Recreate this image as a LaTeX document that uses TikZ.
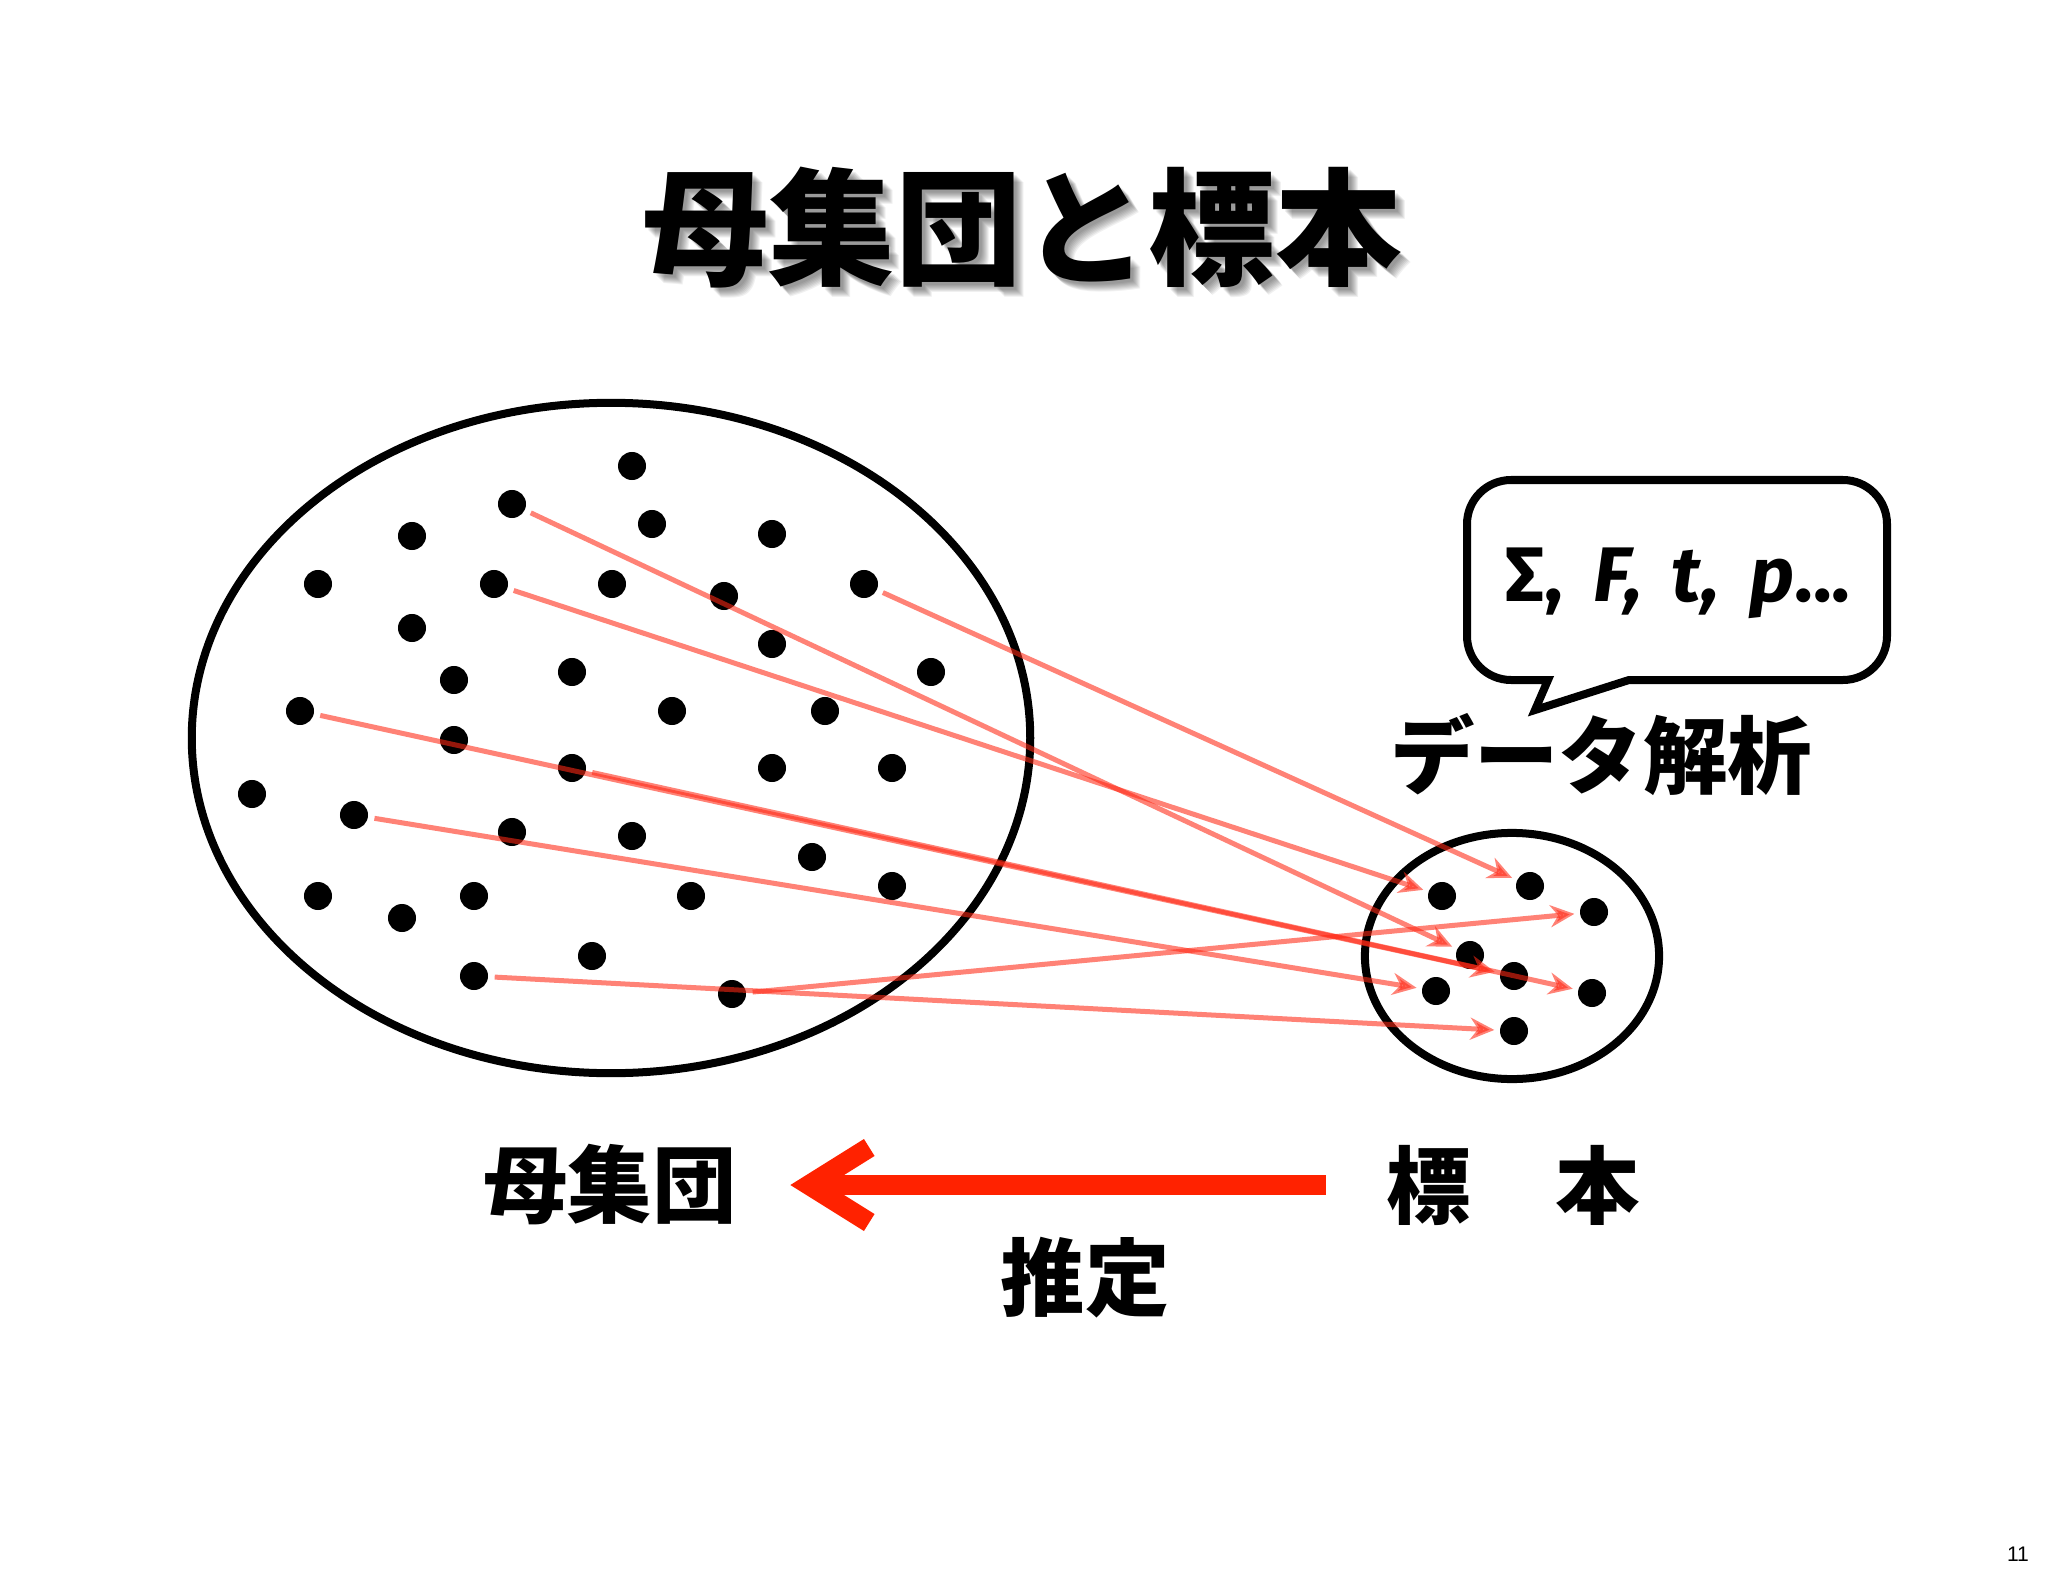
\documentclass[tikz,border=0pt]{standalone}
\usepackage{fontspec}
\setmainfont{Noto Sans}
\setsansfont{Liberation Sans}
\newfontfamily\jpfont{Noto Sans CJK JP}
\newfontfamily\statfont{Fira Sans}
\usetikzlibrary{arrows.meta}
\definecolor{estred}{RGB}{255,40,20}
\definecolor{bigred}{RGB}{255,34,0}
\tikzset{
  dot/.style={circle, fill=black, inner sep=0pt, minimum size=0.28cm},
  ring/.style={line width=0.08cm},
  sampleline/.style={estred, opacity=0.58, line width=0.05cm, -{Stealth[length=0.24cm,width=0.22cm]}, shorten <=0.06cm, shorten >=0.05cm},
  jp/.style={font=\jpfont\bfseries\fontsize{24}{24}\selectfont, inner sep=0pt},
  titletext/.style={font=\jpfont\bfseries\fontsize{36}{36}\selectfont, inner sep=0pt},
  estimate/.style={bigred, line width=0.2cm, -{Straight Barb[length=0.6cm,width=0.75cm]}}
}
\begin{document}
\begin{tikzpicture}[x=0.01cm, y=-0.01cm]
\path[use as bounding box, fill=white] (0,0) rectangle (2048,1576);
\foreach \d in {3,...,10} {\node[titletext, opacity=0.06] (shadow\d) at (1022+\d,228+\d) {母集団と標本};}
\node[titletext] (title) at (1022,228) {母集団と標本};
\draw[ring] (611,738) ellipse [x radius=4.19cm, y radius=3.35cm];
\draw[ring] (1512,956) ellipse [x radius=1.47cm, y radius=1.23cm];
\foreach \n/\x/\y in {1/632/466, 2/512/504, 3/652/524, 4/772/534, 5/412/536, 6/318/584, 7/494/584, 8/612/584, 9/724/596, 10/864/584, 11/412/628, 12/772/644, 13/931/672, 14/454/680, 15/572/672, 16/300/711, 17/672/711, 18/825/711, 19/454/740, 20/572/768, 21/772/768, 22/892/768, 23/252/794, 24/354/815, 25/512/832, 26/632/836, 27/812/857, 28/892/886, 29/318/896, 30/474/896, 31/691/896, 32/402/918, 33/592/956, 34/474/976, 35/732/994}
  {\node[dot] (p\n) at (\x,\y) {};}
\foreach \n/\x/\y in {a/1442/896, b/1530/886, c/1594/912, d/1470/955, e/1514/976, f/1436/991, g/1592/993, h/1514/1031}
  {\node[dot] (s\n) at (\x,\y) {};}
\foreach \from/\to in {2/d, 7/a, 10/b, 16/e, 20/g, 24/f, 34/h, 35/c}
  {\draw[sampleline] (p\from) -- (s\to);}
\draw[ring, rounded corners=0.44cm] (1629,680) -- (1887,680) -- (1887,480) -- (1467,480) -- (1467,680) [sharp corners] -- (1548,680) -- (1535,710) -- cycle;
\node[anchor=base, font=\statfont\bfseries\fontsize{22}{22}\selectfont] (stats) at (1678,601) {Σ,\hspace{0.15em} \textit{F,\hspace{0.15em} t,\hspace{0.15em} p}...};
\node[jp] (analysis) at (1601,755) {データ解析};
\node[jp] (pop) at (610,1185) {母集団};
\node[jp] (sample) at (1513,1185) {標　本};
\node[jp] (infer) at (1085,1278) {推定};
\draw[estimate, shorten <=0.6cm, shorten >=0.53cm] (sample) -- (pop);
\node[font=\sffamily\fontsize{6}{6}\selectfont] (page) at (2018,1554) {11};
\end{tikzpicture}
\end{document}
